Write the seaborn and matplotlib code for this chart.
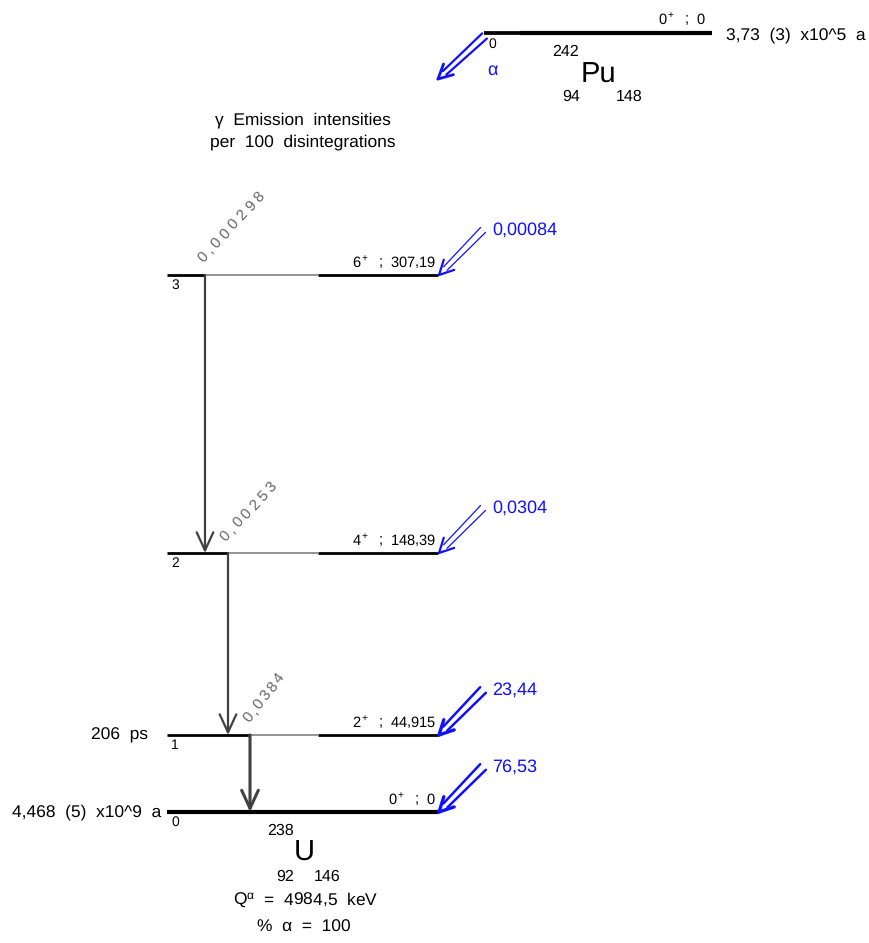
import numpy as np
import matplotlib.pyplot as plt
import seaborn as sns

# Decay data: 242Pu -> 238U (alpha)
level_energy = ["0", "44,915", "148,39", "307,19"]
level_spin = ["0", "2", "4", "6"]
level_index = ["0", "1", "2", "3"]
level_halflife = ["4,468 (5) x10^9 a", "206 ps", "", ""]
alpha_intensity = ["76,53", "23,44", "0,0304", "0,00084"]
gamma_from = [3, 2, 1]
gamma_to = [2, 1, 0]
gamma_intensity = ["0,000298", "0,00253", "0,0384"]
parent_halflife = "3,73 (3) x10^5 a"
q_alpha = "4984,5"
pct_alpha = "100"

# layout (pixels, y pointing down)
level_y = [812, 735, 553, 275]
gamma_x = [205, 228, 250]
gamma_lab_start = [(203, 263), (225, 542), (249, 723)]
gamma_lab_step = [(8.6, -9.2), (8.4, -8.8), (6.8, -8.6)]
x_left, x_right, x_gray_end = 167, 438, 318
parent_y, parent_x0, parent_x1 = 33, 484, 712

sns.set_theme(style="white")
plt.rcParams['font.family'] = ['Liberation Sans', 'DejaVu Sans']
plt.rcParams['mathtext.fontset'] = 'custom'
plt.rcParams['mathtext.rm'] = 'Liberation Sans'
plt.rcParams['mathtext.it'] = 'Liberation Sans'
plt.rcParams['text.color'] = 'black'
plt.rcParams['text.hinting'] = 'no_hinting'

fig = plt.figure(figsize=(8.69, 9.43), dpi=100)
ax = fig.add_axes([0, 0, 1, 1])
ax.set_xlim(0, 869)
ax.set_ylim(943, 0)
ax.axis("off")

blue = "#1010ff"
gcol = "#404040"


def sp(s):
    # the original uses wide word spacing
    return s.replace(" ", "  ")


def seg(x0, x1, y, color="black", lw=2.0):
    sns.lineplot(x=[x0, x1], y=[y, y], ax=ax, color=color, lw=lw,
                 solid_capstyle="butt")


def double_arrow(tip, start, lw, off, hlw):
    tip = np.array(tip, float)
    start = np.array(start, float)
    d = tip - start
    u = d / np.linalg.norm(d)
    n = np.array([-u[1], u[0]])
    for s in (-1, 1):
        p0 = start + s * off * n
        p1 = tip - u * 9 + s * off * 0.7 * n
        ax.plot([p0[0], p1[0]], [p0[1], p1[1]], color=blue, lw=lw)
    for ang in (np.deg2rad(27), -np.deg2rad(27)):
        r = np.array([[np.cos(ang), -np.sin(ang)], [np.sin(ang), np.cos(ang)]])
        h = tip - r @ u * 16
        ax.plot([tip[0], h[0]], [tip[1], h[1]], color=blue, lw=hlw,
                solid_capstyle="round")


# parent level
seg(parent_x0, 520, parent_y, lw=2.7)
seg(520, parent_x1, parent_y, lw=3)
ax.text(706, parent_y - 5, sp("0$^+$ ; 0"), ha="right", va="bottom", fontsize=10.5)
ax.text(726, parent_y + 2, sp(parent_halflife), ha="left", va="center", fontsize=12.5)
ax.text(488, parent_y + 5, "0", ha="left", va="top", fontsize=10)
ax.text(566, 52, "242", ha="center", va="center", fontsize=11.5)
ax.text(598, 75, "Pu", ha="center", va="center", fontsize=21)
ax.text(571, 97, "94", ha="center", va="center", fontsize=11.5)
ax.text(629, 97, "148", ha="center", va="center", fontsize=11.5)
double_arrow((438, 79), (484.5, 36), 1.6, 3.5, 2.0)
ax.text(487, 70, "α", ha="left", va="center", fontsize=13, color=blue)

ax.text(303, 120, sp("γ Emission intensities"), ha="center", va="center", fontsize=12.5)
ax.text(303, 142, sp("per 100 disintegrations"), ha="center", va="center", fontsize=12.5)

# daughter levels
for i, y in enumerate(level_y):
    if i == 0:
        seg(x_left, x_right, y, lw=3)
    else:
        gx = gamma_x[gamma_from.index(i)]
        seg(x_left, gx, y)
        seg(gx, x_gray_end, y, color="#808080", lw=1.2)
        seg(x_gray_end, x_right, y)
    ax.text(436, y - 4, sp(f"{level_spin[i]}$^+$ ; {level_energy[i]}"),
            ha="right", va="bottom", fontsize=10.5)
    ax.text(171, y + 4, level_index[i], ha="left", va="top", fontsize=10)
    if level_halflife[i]:
        hx = 161 if i == 0 else 148
        ax.text(hx, y, sp(level_halflife[i]), ha="right", va="center", fontsize=12.5)
    thin = i >= 2
    double_arrow((x_right + 1, y), (x_right + 45, y - 45),
                 0.9 if thin else 1.8, 3.5 if thin else 4, 1.6 if thin else 2.4)
    ax.text(492, y - 45, alpha_intensity[i], ha="left", va="center",
            fontsize=13, color=blue)

# gamma transitions
for k, (a, b) in enumerate(zip(gamma_from, gamma_to)):
    x = gamma_x[k]
    lw = 2.2 if b == 0 else 1.6
    ax.annotate("", xy=(x, level_y[b]), xytext=(x, level_y[a]),
                arrowprops=dict(arrowstyle="->,head_length=0.65,head_width=0.3",
                                mutation_scale=20, lw=lw, color=gcol,
                                shrinkA=0, shrinkB=0))
    # rotated label, characters spaced out along the diagonal
    px, py = gamma_lab_start[k]
    sx, sy = gamma_lab_step[k]
    rot = np.degrees(np.arctan2(-sy, sx))
    for ch in gamma_intensity[k]:
        ax.text(px, py, ch, ha="left", va="baseline", fontsize=11,
                color="#666666", rotation=rot, rotation_mode="anchor")
        f = 0.55 if ch == "," else 1.0
        px += sx * f
        py += sy * f

ax.text(304, 853, "U", ha="center", va="center", fontsize=21)
ax.text(281, 831, "238", ha="center", va="center", fontsize=11.5)
ax.text(285, 877, "92", ha="center", va="center", fontsize=11.5)
ax.text(327, 877, "146", ha="center", va="center", fontsize=11.5)
ax.text(306, 901, sp(f"Q$^α$ = {q_alpha} keV"), ha="center", va="center", fontsize=12.5)
ax.text(304, 927, sp(f"% α = {pct_alpha}"), ha="center", va="center", fontsize=12.5)

fig.savefig("out.png", dpi=100)
